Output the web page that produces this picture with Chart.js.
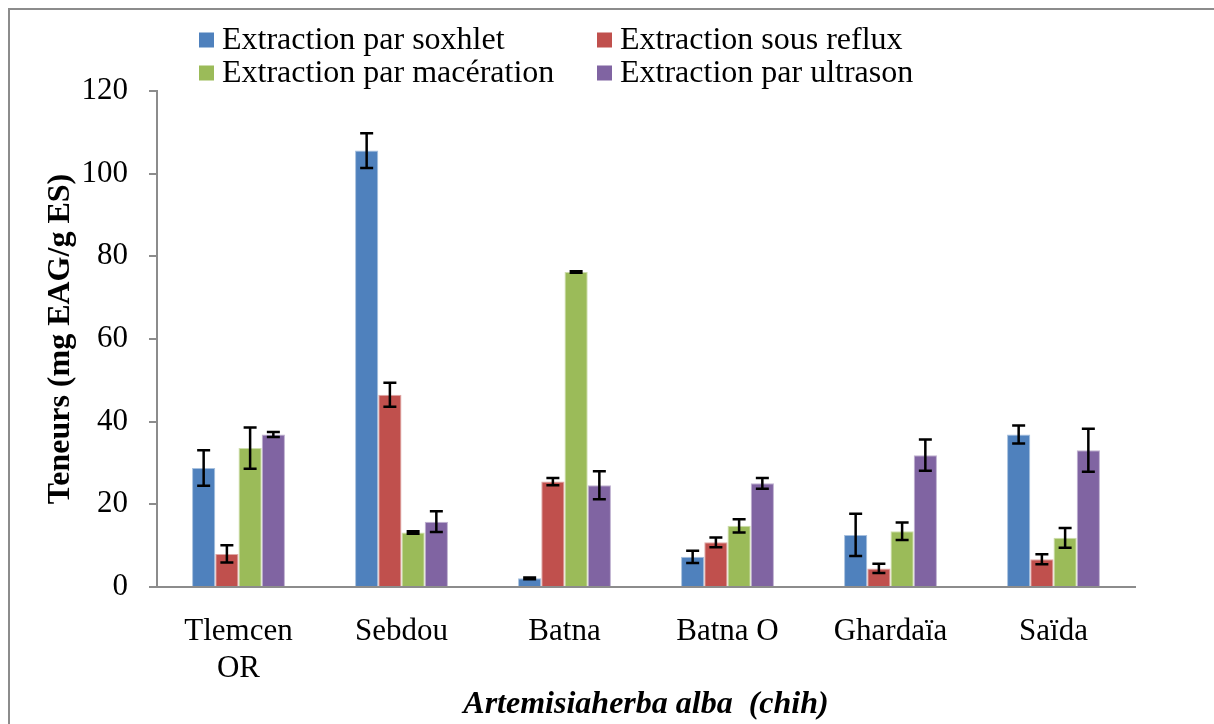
<!DOCTYPE html>
<html>
<head>
<meta charset="utf-8">
<title>Teneurs – Artemisia herba alba</title>
<script src="https://cdn.jsdelivr.net/npm/chart.js@4.4.1/dist/chart.umd.min.js"></script>
<style>
  html, body { margin: 0; padding: 0; background: #ffffff; }
  #wrap { position: relative; width: 1214px; height: 724px; }
</style>
</head>
<body>
<div id="wrap"><canvas id="chart"></canvas></div>
<script>
// Sites (categories)
const sites = [["Tlemcen", "OR"], "Sebdou", "Batna", "Batna O", "Ghardaïa", "Saïda"];

// Series names
const seriesNames = [
  "Extraction par soxhlet",
  "Extraction sous reflux",
  "Extraction par macération",
  "Extraction par ultrason"
];

// Mean contents (mg EAG/g ES) per extraction method
const soxhlet    = [28.8, 105.6, 2.1, 7.3, 12.6, 36.9];
const reflux     = [8.0, 46.5, 25.5, 10.8, 4.5, 6.7];
const maceration = [33.6, 13.2, 76.2, 14.8, 13.5, 11.9];
const ultrason   = [36.9, 15.8, 24.6, 25.1, 31.9, 33.1];

// Standard deviations
const soxhletErr    = [4.3, 4.2, 0.2, 1.5, 5.1, 2.2];
const refluxErr     = [2.1, 2.9, 0.9, 1.2, 1.1, 1.2];
const macerationErr = [5.0, 0.3, 0.2, 1.6, 2.1, 2.4];
const ultrasonErr   = [0.6, 2.5, 3.4, 1.3, 3.8, 5.2];

// Y-axis range
const yMin = 0, yMax = 120, yStep = 20;

const fills   = ["#4F81BD", "#C0504D", "#9BBB59", "#8064A2"];
const borders = ["#A7C0DE", "#E0A8A6", "#CDDDAC", "#BFB1D0"];
const SERIF = "'Liberation Serif', 'Times New Roman', serif";

const values = [soxhlet, reflux, maceration, ultrason];
const errors = [soxhletErr, refluxErr, macerationErr, ultrasonErr];

// Outer frame
const framePlugin = {
  id: "frame",
  beforeDraw(chart) {
    const ctx = chart.ctx;
    ctx.save();
    ctx.fillStyle = "#ffffff";
    ctx.fillRect(0, 0, chart.width, chart.height);
    ctx.strokeStyle = "#8c8c8c";
    ctx.lineWidth = 2;
    ctx.strokeRect(9, 9, chart.width + 20, chart.height + 20);
    ctx.restore();
  }
};

// Error bars (± standard deviation) on every bar
const errorBarPlugin = {
  id: "errorBars",
  afterDatasetsDraw(chart) {
    const ctx = chart.ctx;
    const y = chart.scales.y;
    ctx.save();
    ctx.strokeStyle = "#000000";
    ctx.lineWidth = 2.5;
    chart.data.datasets.forEach((ds, di) => {
      const meta = chart.getDatasetMeta(di);
      meta.data.forEach((bar, i) => {
        const v = ds.data[i];
        const e = ds.errors[i];
        const top = y.getPixelForValue(v + e);
        const bot = y.getPixelForValue(v - e);
        const cap = 6.5;
        ctx.beginPath();
        ctx.moveTo(bar.x, top);
        ctx.lineTo(bar.x, bot);
        ctx.moveTo(bar.x - cap, top);
        ctx.lineTo(bar.x + cap, top);
        ctx.moveTo(bar.x - cap, bot);
        ctx.lineTo(bar.x + cap, bot);
        ctx.stroke();
      });
    });
    ctx.restore();
  }
};

// Two-column legend at the top
const legendPlugin = {
  id: "gridLegend",
  afterDraw(chart) {
    const ctx = chart.ctx;
    const colX = [199, 597];
    const rowY = [40, 73];
    const box = 15;
    ctx.save();
    ctx.font = "32px " + SERIF;
    ctx.textBaseline = "middle";
    ctx.textAlign = "left";
    chart.data.datasets.forEach((ds, i) => {
      const cx = colX[i % 2];
      const cy = rowY[Math.floor(i / 2)];
      ctx.fillStyle = ds.backgroundColor;
      ctx.fillRect(cx, cy - box / 2, box, box);
      ctx.fillStyle = "#000000";
      ctx.fillText(ds.label, cx + 23, cy + 1);
    });
    ctx.restore();
  }
};

const datasets = seriesNames.map((name, i) => ({
  label: name,
  data: values[i],
  errors: errors[i],
  backgroundColor: fills[i],
  borderColor: borders[i],
  borderWidth: 1,
  barPercentage: 1.0,
  categoryPercentage: 0.57
}));

new Chart(document.getElementById("chart"), {
  type: "bar",
  data: { labels: sites, datasets },
  plugins: [framePlugin, errorBarPlugin, legendPlugin],
  options: {
    responsive: true,
    maintainAspectRatio: false,
    animation: false,
    layout: { padding: { top: 91, right: 79, bottom: 0, left: 0 } },
    plugins: {
      legend: { display: false },
      tooltip: { enabled: false },
      title: { display: false }
    },
    scales: {
      x: {
        grid: { display: false },
        border: { display: true, color: "#8c8c8c", width: 2 },
        ticks: {
          color: "#000000",
          font: { family: SERIF, size: 31 },
          padding: 18,
          maxRotation: 0,
          autoSkip: false
        },
        title: {
          display: true,
          text: "Artemisiaherba alba  (chih)",
          color: "#000000",
          font: { family: SERIF, size: 32, style: "italic", weight: "bold" },
          padding: { top: 4, bottom: 0 }
        },
        afterFit(scale) { scale.height = 724 - 587; }
      },
      y: {
        min: yMin,
        max: yMax,
        ticks: {
          stepSize: yStep,
          color: "#000000",
          font: { family: SERIF, size: 31 },
          padding: 21
        },
        grid: {
          display: true,
          drawOnChartArea: false,
          drawTicks: true,
          tickLength: 8,
          color: "#8c8c8c",
          lineWidth: 2
        },
        border: { display: true, color: "#8c8c8c", width: 2 },
        title: {
          display: true,
          text: "Teneurs (mg EAG/g ES)",
          color: "#000000",
          font: { family: SERIF, size: 32, weight: "bold" },
          padding: { top: 42, bottom: 0 }
        },
        afterFit(scale) { scale.width = 157; }
      }
    }
  }
});
</script>
</body>
</html>
